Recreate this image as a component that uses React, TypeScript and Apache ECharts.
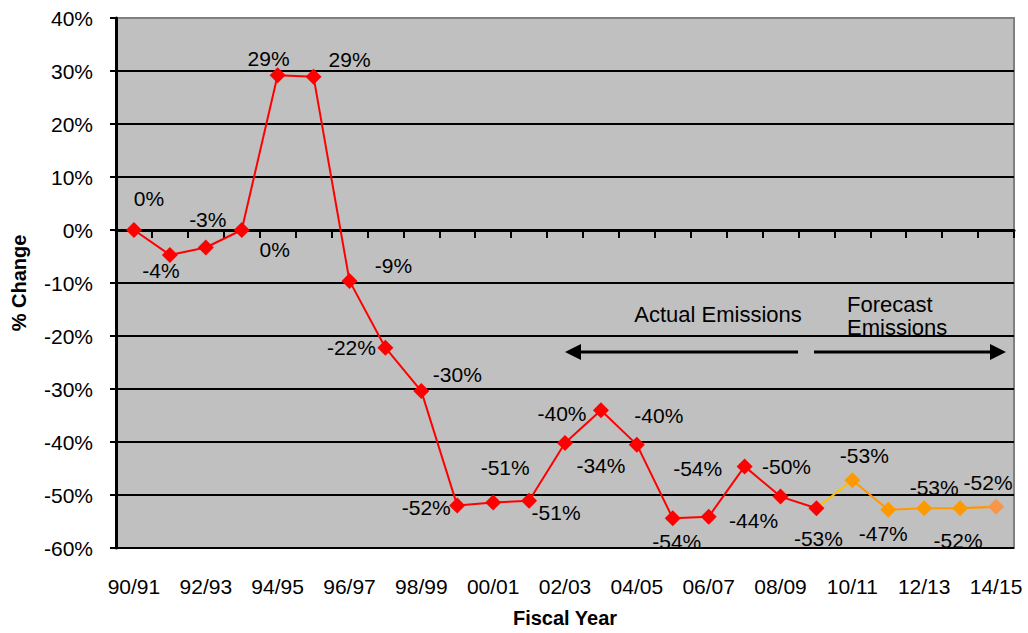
import React, { useEffect, useRef } from "react";
import * as echarts from "echarts";

const categories = [
  "90/91", "91/92", "92/93", "93/94", "94/95", "95/96", "96/97", "97/98", "98/99", "99/00",
  "00/01", "01/02", "02/03", "03/04", "04/05", "05/06", "06/07", "07/08", "08/09", "09/10",
  "10/11", "11/12", "12/13", "13/14", "14/15",
];

// Actual emissions, 90/91 .. 09/10 (% change)
const actualValues = [
  0, -4.7, -3.3, 0, 29.2, 28.9, -9.6, -22.2, -30.4, -52.0,
  -51.4, -51.1, -40.2, -34.0, -40.5, -54.4, -54.1, -44.6, -50.3, -52.5,
];

// Forecast emissions, 10/11 .. 14/15 (% change)
const forecastValues = [-47.2, -52.8, -52.5, -52.5, -52.2];

// Data label texts as printed on the chart, one per point
const pointLabels = [
  "0%", "-4%", "-3%", "0%", "29%", "29%", "-9%", "-22%", "-30%", "-52%",
  "-51%", "-51%", "-40%", "-34%", "-40%", "-54%", "-54%", "-44%", "-50%", "-53%",
  "-53%", "-47%", "-53%", "-52%", "-52%",
];

// Label placement offsets (pixels from point centre)
const labelOffsets: [number, number][] = [
  [15, -32], [-9, 16], [2, -28], [33, 19], [-9, -17], [36, -17], [44, -15], [-34, 0], [36, -17], [-31, 2],
  [12, -35], [27, 12], [-3, -30], [0, 55], [22, -29], [4, 23], [-11, -48], [9, 54], [6, -30], [2, 30],
  [12, -25], [-5, 24], [10, -21], [-2, 32], [-8, -24],
];

const yTicks = { min: -60, max: 40, interval: 10 };

const FONT = "'Liberation Sans', Arial, sans-serif";

export default function App() {
  const ref = useRef<HTMLDivElement>(null);

  useEffect(() => {
    if (!ref.current) return;
    const chart = echarts.init(ref.current, undefined, { renderer: "svg" });

    const nActual = actualValues.length;
    const labelFor = (i: number) => ({
      show: true,
      position: "inside" as const,
      offset: labelOffsets[i],
      formatter: pointLabels[i],
      color: "#000",
      fontSize: 21,
      fontFamily: FONT,
    });

    const actualData = categories.map((_, i) =>
      i < nActual ? { value: actualValues[i], label: labelFor(i) } : null
    );
    const forecastData = categories.map((_, i) => {
      if (i < nActual) return null;
      const v = forecastValues[i - nActual];
      const item: any = { value: v, label: labelFor(i) };
      if (i === categories.length - 1) item.itemStyle = { color: "#F79646" };
      return item;
    });
    const connectorData = categories.map((_, i) =>
      i === nActual - 1 ? actualValues[nActual - 1] : i === nActual ? forecastValues[0] : null
    );
    const lastIdx = categories.length - 1;
    const tailData = categories.map((_, i) =>
      i === lastIdx - 1 ? forecastValues[lastIdx - 1 - nActual] : i === lastIdx ? forecastValues[lastIdx - nActual] : null
    );

    const nSplit = (yTicks.max - yTicks.min) / yTicks.interval + 1;
    const splitColors = Array.from({ length: nSplit }, (_, i) => (i === nSplit - 1 ? "#808080" : "#000000"));

    chart.setOption({
      animation: false,
      textStyle: { fontFamily: FONT },
      grid: {
        left: 116,
        right: 14,
        top: 18,
        bottom: 79,
        show: true,
        backgroundColor: "#C0C0C0",
        borderColor: "#808080",
        borderWidth: 2,
      },
      xAxis: {
        type: "category",
        data: categories,
        boundaryGap: true,
        name: "Fiscal Year",
        nameLocation: "middle",
        nameGap: 60,
        nameTextStyle: { fontSize: 20, fontWeight: "bold", color: "#000", fontFamily: FONT },
        axisLine: { lineStyle: { color: "#000", width: 3 } },
        axisTick: { show: true, interval: 0, length: 8, lineStyle: { color: "#000", width: 2 } },
        axisLabel: { interval: 1, margin: 28, fontSize: 21, color: "#000", fontFamily: FONT },
        splitLine: { show: false },
      },
      yAxis: {
        type: "value",
        min: yTicks.min,
        max: yTicks.max,
        interval: yTicks.interval,
        name: "% Change",
        nameLocation: "middle",
        nameRotate: 90,
        nameGap: 87,
        nameTextStyle: { fontSize: 20, fontWeight: "bold", color: "#000", fontFamily: FONT },
        axisLine: { show: true, lineStyle: { color: "#000", width: 3 } },
        axisTick: { show: true, length: 6, lineStyle: { color: "#000", width: 2 } },
        axisLabel: { formatter: "{value}%", margin: 23, fontSize: 21, color: "#000", fontFamily: FONT },
        splitLine: { show: true, lineStyle: { color: splitColors, width: 2 } },
      },
      series: [
        {
          name: "Connector",
          type: "line",
          data: connectorData,
          symbol: "none",
          lineStyle: { color: "#FFC000", width: 2 },
          z: 2,
        },
        {
          name: "Tail",
          type: "line",
          data: tailData,
          symbol: "none",
          lineStyle: { color: "#F79646", width: 2 },
          z: 2,
        },
        {
          name: "Actual Emissions",
          type: "line",
          data: actualData,
          symbol: "diamond",
          symbolSize: 16,
          itemStyle: { color: "#FF0000" },
          lineStyle: { color: "#FF0000", width: 2 },
          z: 3,
        },
        {
          name: "Forecast Emissions",
          type: "line",
          data: forecastData,
          symbol: "diamond",
          symbolSize: 16,
          itemStyle: { color: "#FF9900" },
          lineStyle: { color: "#FF9900", width: 2 },
          z: 3,
        },
      ],
      graphic: [
        {
          type: "text",
          x: 718,
          y: 314,
          style: {
            text: "Actual Emissions",
            fontSize: 22,
            fontFamily: FONT,
            fill: "#000",
            textAlign: "center",
            textVerticalAlign: "middle",
          },
        },
        {
          type: "text",
          x: 847,
          y: 316,
          style: {
            text: "Forecast\nEmissions",
            fontSize: 22,
            lineHeight: 23,
            fontFamily: FONT,
            fill: "#000",
            textAlign: "left",
            textVerticalAlign: "middle",
          },
        },
        {
          type: "line",
          shape: { x1: 798, y1: 352, x2: 576, y2: 352 },
          style: { stroke: "#000", lineWidth: 3 },
        },
        {
          type: "polygon",
          shape: { points: [[565, 352], [581, 344], [581, 360]] },
          style: { fill: "#000" },
        },
        {
          type: "line",
          shape: { x1: 814, y1: 352, x2: 994, y2: 352 },
          style: { stroke: "#000", lineWidth: 3 },
        },
        {
          type: "polygon",
          shape: { points: [[1006, 352], [990, 344], [990, 360]] },
          style: { fill: "#000" },
        },
      ],
    });

    return () => chart.dispose();
  }, []);

  return (
    <div
      ref={ref}
      style={{ position: "fixed", left: 0, top: 0, width: 1028, height: 633, background: "#fff" }}
    />
  );
}
